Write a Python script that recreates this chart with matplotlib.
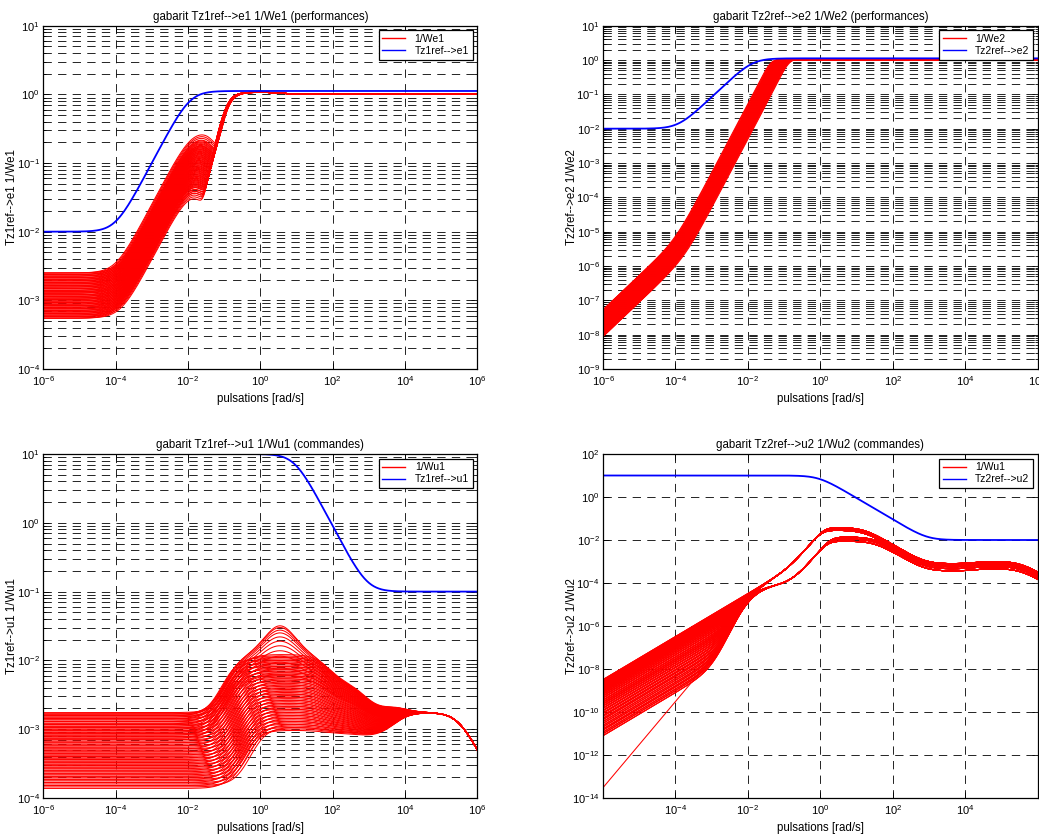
import numpy as np
import matplotlib
matplotlib.use("Agg")
import matplotlib.pyplot as plt
from matplotlib.ticker import FixedLocator, LogFormatterSciNotation, NullLocator, NullFormatter
from matplotlib.lines import Line2D

plt.rcParams['font.family'] = ['Liberation Sans', 'DejaVu Sans']
plt.rcParams['lines.scale_dashes'] = False
plt.rcParams['axes.linewidth'] = 0.9

# pulsation grid [rad/s]
w = np.logspace(-6, 6, 900)

# ---------------------------------------------------------------------------
# inverse weighting templates (blue): low-frequency gain, high-frequency gain,
# first break pulsation
template_low = [0.01, 0.01, 10.0, 10.0]
template_high = [1.12, 1.12, 0.1, 0.01]
template_corner = [1.0e-4, 1.2e-4, 9.0, 0.9]

# ---------------------------------------------------------------------------
# Tz1ref -> e1 family: low-frequency plateau and first rise corner
s1_plateau = [5.5e-4, 5.8e-4, 6.1e-4, 6.43e-4, 6.77e-4, 7.13e-4, 7.52e-4, 7.92e-4,
              8.34e-4, 8.79e-4, 9.26e-4, 9.76e-4, 1.03e-3, 1.08e-3, 1.14e-3, 1.2e-3,
              1.27e-3, 1.33e-3, 1.4e-3, 1.48e-3, 1.56e-3, 1.64e-3, 1.73e-3, 1.82e-3,
              1.92e-3, 2.02e-3, 2.13e-3, 2.25e-3, 2.37e-3, 2.5e-3]
s1_rise_corner = [1.0e-4, 1.2e-4, 1.4e-4]
s1_flat_corner = 1.3e-2
s1_notch_damping = 0.35
s1_pole = (0.12, 0.75)         # (pulsation, damping)
s1_overshoot = 1.08
s1_settle = (4.0, 3.7)         # (zero, pole)

# Tz2ref -> e2 family: integral gain and lag corner
s2_int_gain = [19, 20.5, 22.2, 24, 25.9, 28, 30.2, 32.7, 35.3, 38.1, 41.2, 44.5,
               48.1, 52, 56.2, 60.7, 65.6, 70.9, 76.6, 82.7, 89.4, 96.6, 104.4, 113]
s2_lag_corner = [1.0e-4, 1.35e-4, 1.8e-4]
s2_damping = 0.6

# Tz1ref -> u1 family: plateau, matching lift corner, spread of both
ks1_plateau = [1.45e-4, 1.6e-4, 1.78e-4, 1.97e-4, 2.18e-4, 2.41e-4, 2.67e-4, 2.96e-4,
               3.27e-4, 3.62e-4, 4.01e-4, 4.44e-4, 4.92e-4, 5.44e-4, 6.03e-4, 6.67e-4,
               7.39e-4, 8.18e-4, 9.05e-4, 1.0e-3, 1.11e-3, 1.23e-3, 1.36e-3, 1.5e-3, 1.66e-3]
ks1_lift_corner = [0.25, 0.237, 0.225, 0.213, 0.202, 0.192, 0.182, 0.173, 0.164,
                   0.155, 0.147, 0.14, 0.133, 0.126, 0.119, 0.113, 0.107, 0.102,
                   0.096, 0.091, 0.087, 0.082, 0.078, 0.074, 0.07]
ks1_spread = [(0.95, 0.75), (1.0, 1.0), (1.05, 1.3)]   # (plateau factor, corner factor)
ks1_lift_ratio = 7.0
ks1_rolloff_poles = [50.0, 500.0, 4000.0]
ks1_peak_plateau = [7.4e-4, 8.2e-4, 9.0e-4, 1.0e-3, 1.1e-3, 1.2e-3, 1.3e-3,
                    1.4e-3, 1.5e-3, 1.58e-3, 1.66e-3, 1.66e-3]
ks1_peak_gain = [1.2, 1.35, 1.5, 1.65, 1.8, 1.95, 2.1, 2.25, 2.4, 2.5, 2.6, 2.75]
ks1_peak_freq = 3.5
ks1_peak_zero_damping = 2.5
kc_gain = 0.7e-3
kc_lead = (3.0e3, 7.5e3)
kc_pole = 3.0e5

# Tz2ref -> u2 family: low-frequency zero ratio, two mid-frequency branches
ks2_zero_ratio = [1.0, 0.96, 0.92, 0.88, 0.84, 0.8, 0.76, 0.72, 0.68, 0.64, 0.6,
                  0.56, 0.52, 0.48, 0.45, 0.42, 0.39, 0.36, 0.33, 0.3, 0.27, 0.24,
                  0.21, 0.185, 0.165, 0.145]
ks2_converge_pole = 8.0e-3
ks2_outlier_zero = 2.2e-3
ks2_branch_gain = [3.2e-3, 2.6e-3]
ks2_branch_knee = [None, 0.03]
ks2_branch_zero = [[0.14], [0.15, 0.15]]
ks2_branch_peak_freq = [[1.12, 1.2, 1.3], [1.6, 1.8, 2.0]]
ks2_branch_damping = 0.7
ks2_branch_pole = [16.0, 32.0]
ks2_hf_zero = 800.0
ks2_hf_lead = (1.5e4, 2.0e4)
ks2_hf_pole = 3.3e5


def freq_mag(gain, s_order=0, zeros=(), poles=(), zeros2=(), poles2=()):
    """|H(jw)| of a gain * s^n * first/second-order factors."""
    s = 1j * w
    h = gain * s ** s_order + 0j
    for z in zeros:
        h = h * (1 + s / z)
    for p in poles:
        h = h / (1 + s / p)
    for wn, zeta in zeros2:
        h = h * (1 + 2 * zeta * s / wn + (s / wn) ** 2)
    for wn, zeta in poles2:
        h = h / (1 + 2 * zeta * s / wn + (s / wn) ** 2)
    return np.abs(h)


def template_mag(low, high, corner):
    if high > low:
        zero, pole = corner, corner * high / low
    else:
        pole, zero = corner, corner * low / high
    return freq_mag(low, zeros=[zero], poles=[pole])


def family_s1():
    curves = []
    wp, zp = s1_pole
    for L0 in s1_plateau:
        for w1 in s1_rise_corner:
            wz = np.sqrt(L0 * s1_flat_corner * wp ** 2 / (s1_overshoot * w1))
            curves.append(freq_mag(L0, zeros=[w1, s1_settle[0]],
                                   poles=[s1_flat_corner, s1_settle[1]],
                                   zeros2=[(wz, s1_notch_damping)],
                                   poles2=[(wp, zp)]))
    return curves


def family_s2():
    curves = []
    for ki in s2_int_gain:
        for wk in s2_lag_corner:
            wn = np.sqrt(ki * wk)
            curves.append(freq_mag(1.0 / ki, s_order=1, zeros=[wk],
                                   poles2=[(wn, s2_damping)]))
    return curves


def controller_ks1():
    return freq_mag(kc_gain, zeros=[kc_lead[0]], poles=[kc_lead[1], kc_pole])


def ks1_curve(g, t, resonance=None):
    low = g / kc_gain
    mid = low * ks1_lift_ratio
    k = mid ** (1.0 / len(ks1_rolloff_poles))
    T = t * np.sqrt(ks1_lift_ratio)
    zeros = [t, t] + [v * k for v in ks1_rolloff_poles]
    poles = [T, T] + list(ks1_rolloff_poles)
    z2, p2 = [], []
    if resonance is not None:
        z2 = [(ks1_peak_freq, ks1_peak_zero_damping)]
        p2 = [(ks1_peak_freq, ks1_peak_zero_damping / resonance)]
    return controller_ks1() * freq_mag(low, zeros=zeros, poles=poles,
                                       zeros2=z2, poles2=p2)


def family_ks1():
    curves = []
    for g, t in zip(ks1_plateau, ks1_lift_corner):
        for fg, ft in ks1_spread:
            curves.append(ks1_curve(g * fg, t * ft))
    for g, pk in zip(ks1_peak_plateau, ks1_peak_gain):
        curves.append(ks1_curve(g, 0.06, resonance=pk))
    return curves


def ks2_branch(b, wn):
    zeros = list(ks2_branch_zero[b]) + [ks2_hf_zero, ks2_hf_lead[0]]
    poles = [ks2_branch_pole[b], ks2_hf_lead[1], ks2_hf_pole]
    if ks2_branch_knee[b] is not None:
        poles.append(ks2_branch_knee[b])
    return freq_mag(ks2_branch_gain[b], s_order=1, zeros=zeros, poles=poles,
                    poles2=[(wn, ks2_branch_damping)])


def family_ks2():
    curves = []
    p = ks2_converge_pole
    for b in range(2):
        for wn in ks2_branch_peak_freq[b]:
            branch = ks2_branch(b, wn)
            for r in ks2_zero_ratio:
                z = r * p
                curves.append(branch * freq_mag(r ** 3, zeros=[z] * 3, poles=[p] * 3))
    zo = ks2_outlier_zero
    outlier = freq_mag(zo ** 2 / p ** 3, s_order=1, zeros=[zo, zo], poles=[p] * 3)
    curves.append(ks2_branch(0, ks2_branch_peak_freq[0][1]) * outlier)
    return curves


panels = [
    dict(rect=[43.3 / 1039, 1 - 369 / 840, 434 / 1039, 343.3 / 840],
         title='gabarit Tz1ref-->e1 1/We1 (performances)',
         ylabel='Tz1ref-->e1 1/We1', labels=('1/We1', 'Tz1ref-->e1'),
         ylim=(1e-4, 1e1), yexp=range(-4, 2), minor=True,
         xexp=range(-6, 7, 2), family=family_s1, tpl=0),
    dict(rect=[603 / 1039, 1 - 369 / 840, 434.7 / 1039, 343.3 / 840],
         title='gabarit Tz2ref-->e2 1/We2 (performances)',
         ylabel='Tz2ref-->e2 1/We2', labels=('1/We2', 'Tz2ref-->e2'),
         ylim=(1e-9, 1e1), yexp=range(-9, 2), minor=True,
         xexp=range(-6, 7, 2), family=family_s2, tpl=1),
    dict(rect=[43.3 / 1039, 1 - 798 / 840, 434 / 1039, 344 / 840],
         title='gabarit Tz1ref-->u1 1/Wu1 (commandes)',
         ylabel='Tz1ref-->u1 1/Wu1', labels=('1/Wu1', 'Tz1ref-->u1'),
         ylim=(1e-4, 1e1), yexp=range(-4, 2), minor=True,
         xexp=range(-6, 7, 2), family=family_ks1, tpl=2),
    dict(rect=[603 / 1039, 1 - 798 / 840, 434.7 / 1039, 344 / 840],
         title='gabarit Tz2ref-->u2 1/Wu2 (commandes)',
         ylabel='Tz2ref-->u2 1/Wu2', labels=('1/Wu1', 'Tz2ref-->u2'),
         ylim=(1e-14, 1e2), yexp=range(-14, 3, 2), minor=False,
         xexp=range(-4, 5, 2), family=family_ks2, tpl=3),
]

fig = plt.figure(figsize=(10.39, 8.40), dpi=100)
dash = (0, (6, 4.5))

for pnl in panels:
    ax = fig.add_axes(pnl['rect'])
    for mag in pnl['family']():
        ax.plot(w, mag, color='#ff0000', lw=0.75, solid_joinstyle='round')
    i = pnl['tpl']
    ax.plot(w, template_mag(template_low[i], template_high[i], template_corner[i]),
            color='#0000ff', lw=1.3)
    ax.set_xscale('log')
    ax.set_yscale('log')
    ax.set_xlim(1e-6, 1e6)
    ax.set_ylim(*pnl['ylim'])
    ax.xaxis.set_major_locator(FixedLocator([10.0 ** e for e in pnl['xexp']]))
    ax.xaxis.set_major_formatter(LogFormatterSciNotation())
    ax.xaxis.set_minor_locator(NullLocator())
    ax.yaxis.set_major_locator(FixedLocator([10.0 ** e for e in pnl['yexp']]))
    ax.yaxis.set_major_formatter(LogFormatterSciNotation())
    if pnl['minor']:
        lo, hi = pnl['yexp'][0], pnl['yexp'][-1]
        minors = [m * 10.0 ** e for e in range(lo, hi) for m in range(2, 10)]
        ax.yaxis.set_minor_locator(FixedLocator(minors))
        ax.yaxis.grid(True, which='minor', color='k', linestyle=dash, lw=0.6)
    else:
        ax.yaxis.set_minor_locator(NullLocator())
    ax.yaxis.set_minor_formatter(NullFormatter())
    ax.grid(True, which='major', color='k', linestyle=dash, lw=0.6)
    ax.tick_params(which='both', direction='in', top=True, right=True,
                   labelsize=8, width=0.6, pad=2.5)
    ax.tick_params(axis='x', which='major', pad=3.5)
    ax.tick_params(which='major', length=4)
    ax.tick_params(which='minor', length=2)
    ax.set_title(pnl['title'], fontsize=8.3, pad=4)
    ax.set_xlabel('pulsations [rad/s]', fontsize=8.3, labelpad=4)
    ax.set_ylabel(pnl['ylabel'], fontsize=8.3)
    ax.yaxis.set_label_coords(-0.058, 0.5)
    handles = [Line2D([], [], color='#ff0000', lw=1.0),
               Line2D([], [], color='#0000ff', lw=1.0)]
    leg = ax.legend(handles, pnl['labels'], loc='upper right', fontsize=7.5,
                    fancybox=False, framealpha=1, edgecolor='k',
                    borderaxespad=0.45, handlelength=2.2, handletextpad=0.9,
                    borderpad=0.35, labelspacing=0.2)
    leg.get_frame().set_linewidth(0.9)
    for line in ax.get_xgridlines() + ax.get_ygridlines():
        line.set_zorder(1.5)

fig.savefig('out.png', dpi=100)
